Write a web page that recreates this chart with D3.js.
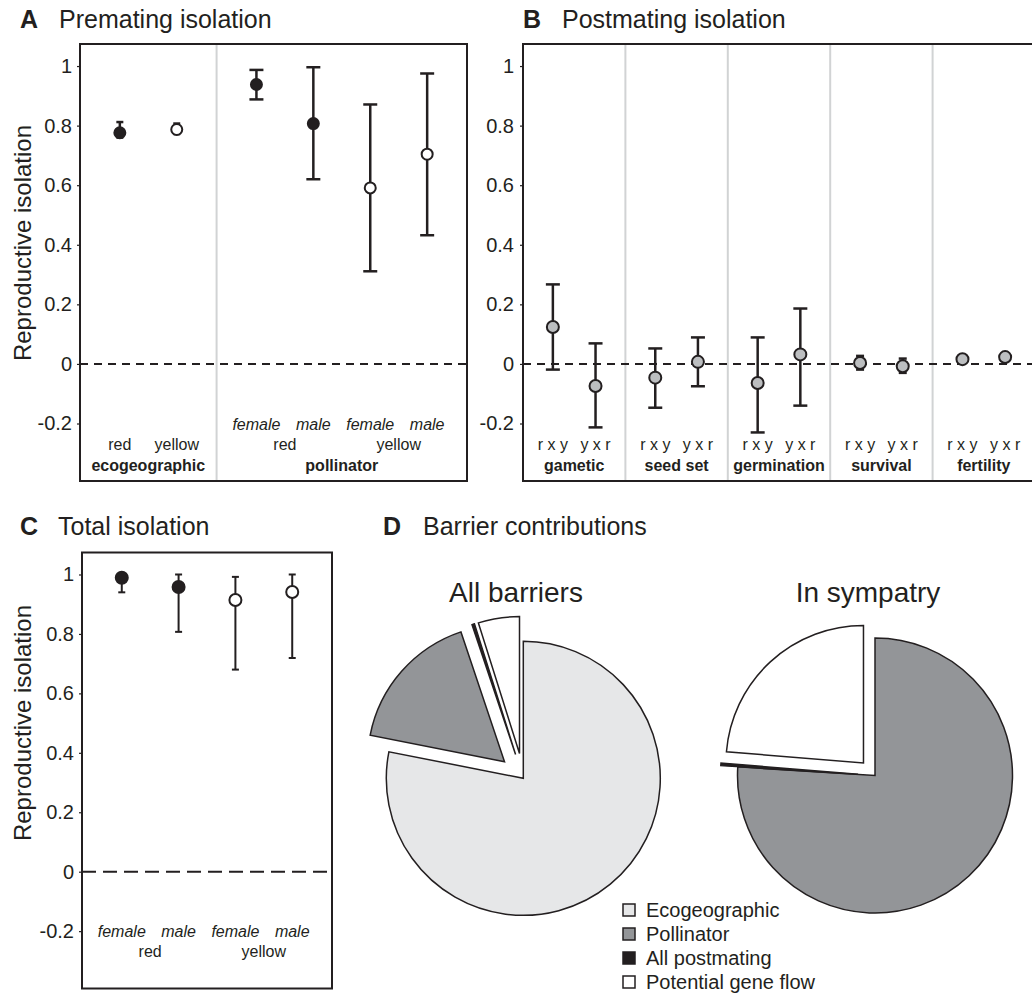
<!DOCTYPE html>
<html><head><meta charset="utf-8">
<script src="https://cdn.jsdelivr.net/npm/d3@7"></script>
<style>
body{margin:0;background:#fff}
svg text{font-family:"Liberation Sans",Arial,Helvetica,sans-serif;fill:#231f20}
</style>
</head><body>
<svg id="c" width="1032" height="995" xmlns="http://www.w3.org/2000/svg"></svg>
<script>
// ---------------- DATA ----------------
const yTicks = [-0.2, 0, 0.2, 0.4, 0.6, 0.8, 1];

// Panel A: premating isolation
const premGroup   = ["ecogeographic","ecogeographic","pollinator","pollinator","pollinator","pollinator"];
const premSex     = ["", "", "female","male","female","male"];
const premSpecies = ["red","yellow","red","red","yellow","yellow"];
const premMean = [0.776, 0.787, 0.938, 0.807, 0.591, 0.704];
const premLow  = [0.760, 0.772, 0.888, 0.620, 0.311, 0.432];
const premHigh = [0.812, 0.807, 0.987, 0.996, 0.871, 0.975];

// Panel B: postmating isolation
const postGroup = ["gametic","gametic","seed set","seed set","germination","germination","survival","survival","fertility","fertility"];
const postCross = ["r x y","y x r","r x y","y x r","r x y","y x r","r x y","y x r","r x y","y x r"];
const postMean = [0.124, -0.074, -0.046, 0.007, -0.064, 0.032, 0.003, -0.008, 0.016, 0.023];
const postLow  = [-0.019, -0.213, -0.147, -0.075, -0.230, -0.140, -0.019, -0.030, 0.008, 0.014];
const postHigh = [0.267, 0.069, 0.052, 0.089, 0.089, 0.186, 0.027, 0.018, 0.026, 0.034];

// Panel C: total isolation
const totGroup   = ["total","total","total","total"];
const totSex     = ["female","male","female","male"];
const totSpecies = ["red","red","yellow","yellow"];
const totMean = [0.989, 0.958, 0.914, 0.941];
const totLow  = [0.940, 0.807, 0.680, 0.719];
const totHigh = [1.000, 1.000, 0.992, 1.000];

// Panel D: barrier contributions
const pieLabels   = ["Ecogeographic","Pollinator","All postmating","Potential gene flow"];
const allBarriers = [0.781, 0.1675, 0.003, 0.0485];
const inSympatry  = [0, 0.760, 0.003, 0.237];

// ---------------- STYLE ----------------
const INK = "#231f20";
const FONT = '"Liberation Sans",Arial,Helvetica,sans-serif';
const pieColors = ["#e6e7e8", "#939598", "#231f20", "#ffffff"];
const yDomain = [-0.393, 1.074];

const svg = d3.select("#c");
svg.append("rect").attr("width",1032).attr("height",995).attr("fill","#fff");

function title(letter, text, x, xt, yb){
  svg.append("text").attr("x",x).attr("y",yb).attr("font-size",25).attr("font-weight","bold").text(letter);
  svg.append("text").attr("x",xt).attr("y",yb).attr("font-size",25).text(text);
}

function pointPanel(o){
  const y = d3.scaleLinear().domain(yDomain).range([o.bottom, o.top]);
  const g = svg.append("g");
  const groupNames = [...new Set(o.group)];
  const pad = 0.7;
  let units = 0; const gStart = {};
  groupNames.forEach(n => { gStart[n] = units; const cnt = o.group.filter(v => v === n).length; units += cnt - 1 + 2*pad; });
  const xu = d3.scaleLinear().domain([0, units]).range([o.left, o.right]);
  const idxIn = {};
  const xs = o.group.map(n => { idxIn[n] = (idxIn[n] ?? -1) + 1; return xu(gStart[n] + pad + idxIn[n]); });

  // dividers
  groupNames.slice(1).forEach(n => {
    g.append("line").attr("x1", xu(gStart[n])).attr("x2", xu(gStart[n]))
      .attr("y1", o.top).attr("y2", o.bottom).attr("stroke", "#d1d3d4").attr("stroke-width", 2);
  });
  // zero line
  g.append("line").attr("x1", o.left).attr("x2", o.right).attr("y1", y(0)).attr("y2", y(0))
    .attr("stroke", INK).attr("stroke-width", 2).attr("stroke-dasharray", o.dash);

  // axis
  const ax = d3.axisLeft(y).tickValues(yTicks).tickFormat(d => String(d)).tickSize(3).tickPadding(o.tickPad);
  const axg = g.append("g").attr("transform", `translate(${o.left},0)`).call(ax)
    .attr("font-family", FONT).attr("font-size", 20).attr("color", INK);
  axg.select(".domain").remove();
  axg.selectAll(".tick line").attr("stroke-width", 1.2);

  // error bars
  o.mean.forEach((m, i) => {
    const x = xs[i], cw = (o.capW[o.group[i]] ?? o.capDefault) / 2;
    g.append("line").attr("x1", x).attr("x2", x).attr("y1", y(o.low[i])).attr("y2", y(o.high[i]))
      .attr("stroke", INK).attr("stroke-width", o.sw);
    [o.low[i], o.high[i]].forEach(v => {
      g.append("line").attr("x1", x - cw).attr("x2", x + cw).attr("y1", y(v)).attr("y2", y(v))
        .attr("stroke", INK).attr("stroke-width", o.sw);
    });
  });
  // points
  o.mean.forEach((m, i) => {
    g.append("circle").attr("cx", xs[i]).attr("cy", y(m)).attr("r", o.r)
      .attr("fill", o.fill(i)).attr("stroke", INK).attr("stroke-width", 2);
  });

  // labels
  const r1 = y(-0.2) + 6, r2 = r1 + 20, r3 = r1 + 41;
  o.mean.forEach((m, i) => {
    if (o.sex && o.sex[i]) g.append("text").attr("x", xs[i]).attr("y", r1).attr("text-anchor", "middle")
      .attr("font-size", 16).attr("font-style", "italic").text(o.sex[i]);
  });
  groupNames.forEach(n => {
    const idx = o.group.map((v, i) => v === n ? i : -1).filter(i => i >= 0);
    const sp = [...new Set(idx.map(i => o.species[i]))];
    sp.forEach(s => {
      const xsS = idx.filter(i => o.species[i] === s).map(i => xs[i]);
      g.append("text").attr("x", d3.mean(xsS)).attr("y", r2).attr("text-anchor", "middle")
        .attr("font-size", 16).text(s);
    });
    if (o.showGroup) {
      const cnt = idx.length;
      g.append("text").attr("x", xu(gStart[n] + (cnt - 1 + 2*pad)/2)).attr("y", r3).attr("text-anchor", "middle")
        .attr("font-size", 16).attr("font-weight", "bold").text(n);
    }
  });

  // box
  g.append("rect").attr("x", o.left).attr("y", o.top).attr("width", o.right - o.left).attr("height", o.bottom - o.top)
    .attr("fill", "none").attr("stroke", INK).attr("stroke-width", 2);

  if (o.ylab) {
    g.append("text").attr("transform", `translate(31,${o.ylabY}) rotate(-90)`).attr("text-anchor", "middle")
      .attr("font-size", 24).text("Reproductive isolation");
  }
}

// Panel A
title("A", "Premating isolation", 20, 59, 28);
pointPanel({left:80, right:467, top:44, bottom:481,
  group:premGroup, sex:premSex, species:premSpecies, mean:premMean, low:premLow, high:premHigh,
  fill:i => premSpecies[i] === "red" ? INK : "#fff", r:5.5, sw:2.5,
  capW:{ecogeographic:7}, capDefault:14, dash:"8,6", tickPad:5, showGroup:true, ylab:true, ylabY:243});

// Panel B
title("B", "Postmating isolation", 523, 562, 28);
pointPanel({left:523, right:1035, top:44, bottom:481,
  group:postGroup, sex:null, species:postCross, mean:postMean, low:postLow, high:postHigh,
  fill:i => "#bcbec0", r:6, sw:2.5,
  capW:{survival:8, fertility:8}, capDefault:14, dash:"8,6", tickPad:6, showGroup:true, ylab:false});

// Panel C
title("C", "Total isolation", 20, 58, 535);
pointPanel({left:82, right:332, top:552.5, bottom:988.5,
  group:totGroup, sex:totSex, species:totSpecies, mean:totMean, low:totLow, high:totHigh,
  fill:i => totSpecies[i] === "red" ? INK : "#fff", r:6, sw:2,
  capW:{}, capDefault:7, dash:"14,7", tickPad:5, showGroup:false, ylab:true, ylabY:723});

// Panel D
title("D", "Barrier contributions", 383, 423, 535);

function drawPie(values, cx, cy, r, explodeIdx, explode, label, labelX){
  const arcs = d3.pie().sort(null).value(d => d)(values);
  const arc = d3.arc().innerRadius(0).outerRadius(r);
  const g = svg.append("g").attr("transform", `translate(${cx},${cy})`);
  arcs.forEach((a, i) => {
    if (a.data <= 0) return;
    const mid = (a.startAngle + a.endAngle) / 2;
    const e = explodeIdx.includes(i) ? explode : 0;
    g.append("path").attr("d", arc(a))
      .attr("transform", `translate(${e*Math.sin(mid)},${-e*Math.cos(mid)})`)
      .attr("fill", pieColors[i]).attr("stroke", INK).attr("stroke-width", 1.5).attr("stroke-linejoin", "miter");
  });
  svg.append("text").attr("x", labelX).attr("y", 602).attr("text-anchor", "middle").attr("font-size", 28).text(label);
}
drawPie(allBarriers, 523.3, 778.3, 137, [1,2,3], 25, "All barriers", 516);
drawPie(inSympatry, 875, 775.5, 137.5, [2,3], 17, "In sympatry", 868);

// legend
const lg = svg.append("g");
pieLabels.forEach((t, i) => {
  const cy = 910 + i*24;
  lg.append("rect").attr("x", 623).attr("y", cy - 6).attr("width", 12).attr("height", 12)
    .attr("fill", pieColors[i]).attr("stroke", INK).attr("stroke-width", 1.5);
  lg.append("text").attr("x", 646).attr("y", cy + 7).attr("font-size", 20).text(t);
});
</script>
</body></html>
